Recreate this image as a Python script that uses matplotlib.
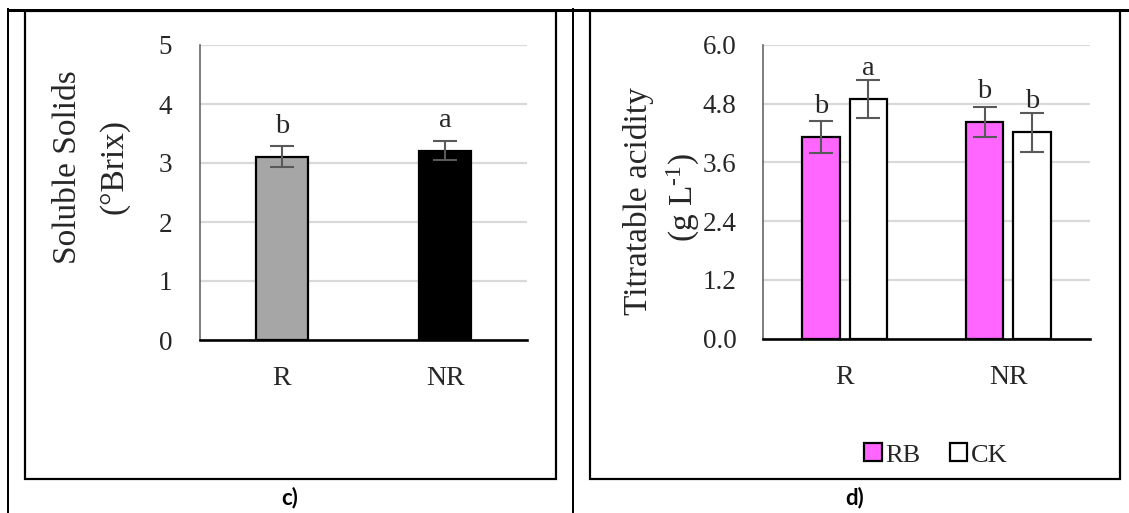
import matplotlib
matplotlib.use("Agg")
import matplotlib.pyplot as plt
from matplotlib.lines import Line2D
from matplotlib.patches import Rectangle
import numpy as np

# ---------------- data ----------------
categories = ["R", "NR"]

# panel c) Soluble solids
ss_values = [3.11, 3.21]
ss_err = [0.17, 0.16]
ss_letters = ["b", "a"]
ss_ticks = [0, 1, 2, 3, 4, 5]

# panel d) Titratable acidity
series_names = ["RB", "CK"]
ta_rb = [4.12, 4.43]
ta_rb_err = [0.33, 0.31]
ta_ck = [4.89, 4.22]
ta_ck_err = [0.39, 0.40]
ta_rb_letters = ["b", "b"]
ta_ck_letters = ["a", "b"]
ta_ticks = [0.0, 1.2, 2.4, 3.6, 4.8, 6.0]

# ---------------- style ----------------
W, H = 1129, 513
SERIF = "Liberation Serif"
plt.rcParams["font.family"] = [SERIF, "DejaVu Serif"]
plt.rcParams["mathtext.fontset"] = "custom"
plt.rcParams["mathtext.rm"] = SERIF
plt.rcParams["mathtext.it"] = SERIF

fig = plt.figure(figsize=(W / 100, H / 100), dpi=100)
fig.patch.set_facecolor("white")


def fx(x):
    return x / W


def fy(y):
    return 1 - y / H


def px2pt(p):
    return p * 72 / 100


def add_axes_px(left, right, top, bottom):
    return fig.add_axes([fx(left), fy(bottom), (right - left) / W, (bottom - top) / H])


def line(x0, y0, x1, y1, lw_px, color="black"):
    fig.add_artist(Line2D([fx(x0), fx(x1)], [fy(y0), fy(y1)], transform=fig.transFigure,
                          color=color, lw=px2pt(lw_px), solid_capstyle="butt"))


def style_axes(ax, ymax, ticks, fmt, ypad):
    ax.set_ylim(0, ymax)
    ax.set_xlim(-0.5, 1.5)
    ax.set_yticks(ticks)
    ax.set_yticklabels([fmt(t) for t in ticks])
    ax.set_xticks(range(len(categories)))
    ax.set_xticklabels(categories)
    for s in ["top", "right"]:
        ax.spines[s].set_visible(False)
    ax.spines["left"].set_color("#595959")
    ax.spines["left"].set_linewidth(1.1)
    ax.spines["bottom"].set_color("black")
    ax.spines["bottom"].set_linewidth(px2pt(2.6))
    ax.spines["bottom"].set_zorder(5)
    ax.tick_params(axis="y", length=0, pad=ypad, labelsize=19.5, colors="#262626")
    ax.tick_params(axis="x", length=0, pad=19, labelsize=20, colors="#262626")
    ax.yaxis.grid(True, color="#D9D9D9", lw=px2pt(2.2))
    ax.set_axisbelow(True)
    ax.patch.set_alpha(0)


err_kw = dict(ecolor="#595959", elinewidth=1.5, capsize=8.5, capthick=1.5)
bar_edge = dict(edgecolor="black", linewidth=1.6)

# ---------------- panel c ----------------
axc = add_axes_px(200, 527, 45, 340)
style_axes(axc, 5, ss_ticks, lambda t: f"{t:d}", 20)
xc = np.arange(len(categories))
bars_c = axc.bar(xc, ss_values, width=0.318, yerr=ss_err, color=["#A6A6A6", "black"],
                 error_kw=err_kw, zorder=3, **bar_edge)
for x, v, lab in zip(xc, ss_values, ss_letters):
    axc.annotate(lab, (x, v), xytext=(0, px2pt(24)), textcoords="offset points",
                 ha="center", va="baseline", fontsize=20.5, color="#262626")

fig.text(fx(68), fy(167), "Soluble Solids", rotation=90, ha="center", va="center",
         fontsize=24, color="#262626")
fig.text(fx(114), fy(167), "(°Brix)", rotation=90, ha="center", va="center",
         fontsize=24, color="#262626")

# ---------------- panel d ----------------
axd = add_axes_px(763, 1090, 45, 338.5)
style_axes(axd, 6, ta_ticks, lambda t: f"{t:.1f}", 19)
xd = np.arange(len(categories))
bw = 0.23
off = 0.1445
b_rb = axd.bar(xd - off, ta_rb, width=bw, yerr=ta_rb_err, color="#FF66FF",
               error_kw=err_kw, zorder=3, label=series_names[0], **bar_edge)
b_ck = axd.bar(xd + off, ta_ck, width=bw, yerr=ta_ck_err, color="white",
               error_kw=err_kw, zorder=3, label=series_names[1], **bar_edge)
for xs, vals, labs in [(xd - off, ta_rb, ta_rb_letters), (xd + off, ta_ck, ta_ck_letters)]:
    for x, v, lab in zip(xs, vals, labs):
        axd.annotate(lab, (x, v), xytext=(0, px2pt(24)), textcoords="offset points",
                     ha="center", va="baseline", fontsize=20.5, color="#262626")

fig.text(fx(638), fy(201), "Titratable acidity", rotation=90, ha="center", va="center",
         fontsize=24, color="#262626")
fig.text(fx(683), fy(198), r"(g L$^{\mathrm{\text{-}1}}$)", rotation=90, ha="center",
         va="center", fontsize=24, color="#262626")

leg = fig.legend(handles=[b_rb, b_ck], labels=series_names, loc="center",
                 bbox_to_anchor=(fx(936), fy(455)), ncol=2, frameon=False,
                 fontsize=19, handlelength=0.65, handleheight=0.65,
                 handletextpad=0.15, columnspacing=1.1, borderaxespad=0)
for t in leg.get_texts():
    t.set_color("#262626")

# ---------------- frames and captions ----------------
line(7, 9.5, 1129, 9.5, 3)          # top table line
line(7.5, 8, 7.5, 513, 2)           # left table line
line(573, 8, 573, 513, 2)           # middle divider
for (l, r) in [(25, 556), (590, 1120)]:
    fig.add_artist(Rectangle((fx(l), fy(479)), (r - l) / W, (479 - 11) / H,
                             transform=fig.transFigure, fill=False,
                             edgecolor="black", lw=px2pt(2.2)))

fig.text(fx(290), fy(498), "c)", ha="center", va="center", fontsize=16,
         fontweight="bold", family=["Lato", "DejaVu Sans"])
fig.text(fx(855), fy(498), "d)", ha="center", va="center", fontsize=16,
         fontweight="bold", family=["Lato", "DejaVu Sans"])

fig.savefig("out.png", dpi=100, facecolor="white")
